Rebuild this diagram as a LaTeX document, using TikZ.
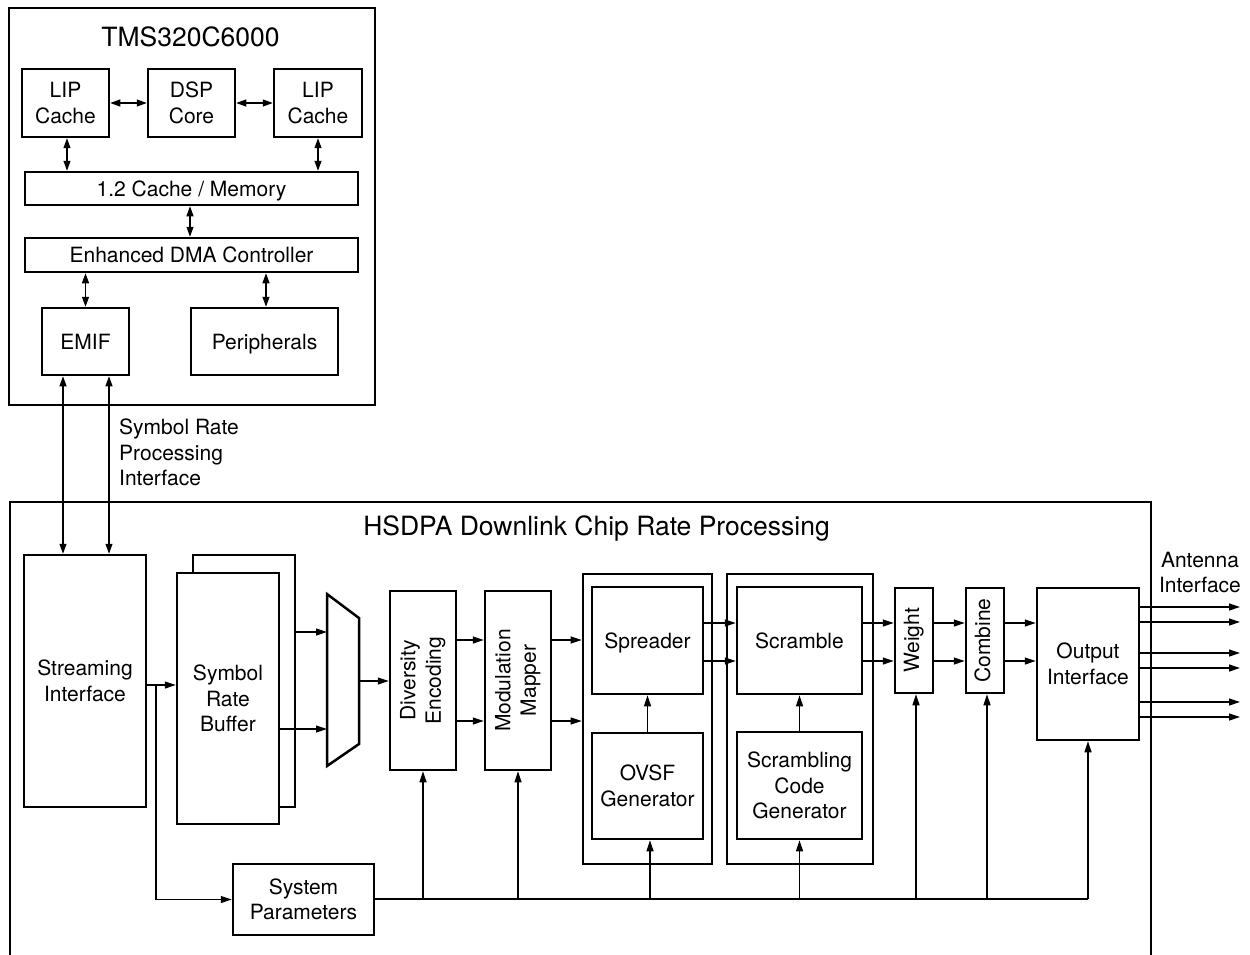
\documentclass[tikz,border=0pt]{standalone}
\usepackage{fontspec}
\setmainfont{TeX Gyre Heros}
\usetikzlibrary{arrows.meta,calc}
\begin{document}
\begin{tikzpicture}[x=1pt,y=-1pt,
  txt/.style={font=\fontsize{21}{25.5}\selectfont},
  blk/.style={draw, line width=2.5pt, fill=white, align=center, inner sep=0pt, txt},
  one/.style={text height=15pt, text depth=0pt},
  frame/.style={draw, line width=2.7pt},
  wire/.style={line width=1.2pt},
  arr/.style={wire, -{Triangle[length=11pt,width=7pt]}},
  darr/.style={wire, {Triangle[length=10pt,width=7pt]}-{Triangle[length=10pt,width=7pt]}},
  lbl/.style={txt, align=left, inner sep=0pt},
  ttl/.style={font=\fontsize{26.5}{30}\selectfont, inner sep=0pt}]
\newcommand{\vtext}[1]{\rotatebox{90}{\begin{tabular}{@{}c@{}}#1\end{tabular}}}

\useasboundingbox (0,0) rectangle (1250,955);

% ---------- DSP processor ----------
\node[frame, minimum width=366pt, minimum height=397pt] (tms) at (192,206.5) {};
\node[ttl] (tmst) at (190.5,37) {TMS320C6000};

\node[blk, minimum width=87pt, minimum height=68pt] (lipa) at (65.5,103) {LIP\\Cache};
\node[blk, minimum width=87pt, minimum height=68pt] (dsp) at (191.5,103) {DSP\\Core};
\node[blk, minimum width=88pt, minimum height=68pt] (lipb) at (318,103) {LIP\\Cache};
\node[blk, one, minimum width=333pt, minimum height=33pt] (cmem) at (191.5,188.5) {1.2 Cache / Memory};
\node[blk, one, minimum width=333pt, minimum height=34pt] (dma) at (191.5,255) {Enhanced DMA Controller};
\node[blk, one, minimum width=87pt, minimum height=67pt] (emif) at (85.5,341.5) {EMIF};
\node[blk, one, minimum width=147pt, minimum height=67pt] (peri) at (264.5,341.5) {Peripherals};

\draw[darr] (lipa.east) -- (dsp.west);
\draw[darr] (dsp.east) -- (lipb.west);
\draw[darr] ([xshift=1.5pt]lipa.south) -- ([xshift=1.5pt]lipa.south |- cmem.north);
\draw[darr] (lipb.south) -- (lipb.south |- cmem.north);
\draw[darr] ([xshift=-1.5pt]cmem.south) -- ([xshift=-1.5pt]cmem.south |- dma.north);
\draw[darr] (emif.north) -- (emif.north |- dma.south);
\draw[darr] ([xshift=1.5pt]peri.north) -- ([xshift=1.5pt]peri.north |- dma.south);

% ---------- chip rate processing ----------
\draw[frame] (10,970) -- (10,502) -- (1151,502) -- (1151,970);
\node[ttl] (hst) at (596.5,528) {HSDPA Downlink Chip Rate Processing};

\node[blk, minimum width=122pt, minimum height=252pt] (stream) at (85,681) {Streaming\\Interface};
\node[blk, minimum width=102pt, minimum height=252pt] (bufb) at (244,681) {};
\node[blk, minimum width=102pt, minimum height=251pt] (buf) at (228,698.5) {Symbol\\Rate\\Buffer};

\draw[darr] ([xshift=-22.5pt]emif.south) -- ([xshift=-22.5pt]emif.south |- stream.north);
\draw[darr] ([xshift=23.5pt]emif.south) -- ([xshift=23.5pt]emif.south |- stream.north);
\node[lbl, anchor=west] (srpi) at (119,452.5) {Symbol Rate\\Processing\\Interface};

% multiplexer
\draw[line width=2.5pt, line join=miter] (327,594) -- (359,618) -- (359,744) -- (327,766) -- cycle;
\coordinate (mA) at (327,632);
\coordinate (mB) at (327,729);
\coordinate (mO) at (359,681);

\node[blk, minimum width=66pt, minimum height=179pt] (div) at (423,680.5) {\vtext{Diversity\\Encoding}};
\node[blk, minimum width=66pt, minimum height=179pt] (mod) at (518,680.5) {\vtext{Modulation\\Mapper}};

\node[frame, minimum width=129pt, minimum height=290pt] (sc) at (647.5,719) {};
\node[blk, one, minimum width=111pt, minimum height=107pt] (spr) at (647.5,640.5) {Spreader};
\node[blk, minimum width=111pt, minimum height=106pt] (ovsf) at (647.5,786) {OVSF\\Generator};

\node[frame, minimum width=146pt, minimum height=290pt] (xc) at (800,719) {};
\node[blk, one, minimum width=125pt, minimum height=107pt] (scr) at (799.5,640.5) {Scramble};
\node[blk, minimum width=125pt, minimum height=107pt] (scg) at (799.5,785.5) {Scrambling\\Code\\Generator};

\node[blk, minimum width=38pt, minimum height=105pt] (wgt) at (914,640.5) {\vtext{Weight}};
\node[blk, minimum width=38pt, minimum height=105pt] (cmb) at (985,640.5) {\vtext{Combine}};
\node[blk, minimum width=102pt, minimum height=152pt] (out) at (1088,664) {Output\\Interface};
\node[txt, align=center, inner sep=0pt] (antt) at (1200,572.5) {Antenna\\Interface};

\node[blk, minimum width=141pt, minimum height=71pt] (sys) at (303.5,899.5) {System\\Parameters};

% data path
\coordinate (sa) at (156,685);
\draw[arr] (stream.east |- sa) -- (buf.west |- sa);
\draw[arr] (sa) |- (sys.west);
\draw[arr] (bufb.east |- mA) -- (mA);
\draw[arr] (buf.east |- mB) -- (mB);
\draw[arr] (mO) -- (div.west |- mO);

\coordinate (r1) at (0,640);
\coordinate (r2) at (0,721);
\draw[arr] (div.east |- r1) -- (mod.west |- r1);
\draw[arr] (div.east |- r2) -- (mod.west |- r2);
\draw[arr] (mod.east |- r1) -- (sc.west |- r1);
\draw[arr] (mod.east |- r2) -- (sc.west |- r2);

\coordinate (s1) at (0,623);
\coordinate (s2) at (0,661);
\draw[arr] (spr.east |- s1) -- (scr.west |- s1);
\draw[arr] (spr.east |- s2) -- (scr.west |- s2);
\draw[arr] (scr.east |- s1) -- (wgt.west |- s1);
\draw[arr] (scr.east |- s2) -- (wgt.west |- s2);
\draw[arr] (wgt.east |- s1) -- (cmb.west |- s1);
\draw[arr] (wgt.east |- s2) -- (cmb.west |- s2);
\draw[arr] (cmb.east |- s1) -- (out.west |- s1);
\draw[arr] (cmb.east |- s2) -- (out.west |- s2);

\draw[arr] (ovsf.north) -- (spr.south);
\draw[arr] (scg.north) -- (scr.south);

% antenna outputs
\coordinate (ant) at (1240,0);
\foreach \yy [count=\i] in {607,622,653,668,702,717} {
  \coordinate (a\i) at (0,\yy);
  \draw[arr] (out.east |- a\i) -- (ant |- a\i);
}

% parameter bus
\coordinate (bus) at (0,899);
\draw[wire] (sys.east |- bus) -- (out.south |- bus);
\draw[arr] (div.south |- bus) -- (div.south);
\draw[arr] (mod.south |- bus) -- (mod.south);
\draw[arr] ([xshift=2.5pt]ovsf.south |- bus) -- ([xshift=2.5pt]ovsf.south);
\draw[arr] (scg.south |- bus) -- (scg.south);
\draw[arr] ([xshift=2pt]wgt.south |- bus) -- ([xshift=2pt]wgt.south);
\draw[arr] ([xshift=2pt]cmb.south |- bus) -- ([xshift=2pt]cmb.south);
\draw[arr] (out.south |- bus) -- (out.south);
\end{tikzpicture}
\end{document}
